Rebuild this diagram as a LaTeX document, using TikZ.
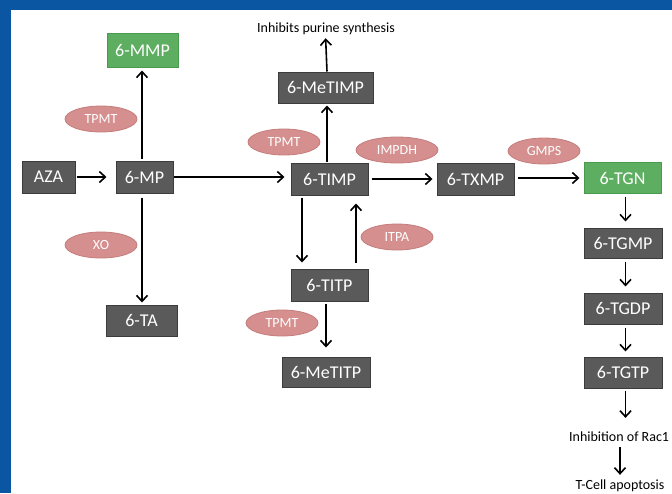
\documentclass[tikz,border=0pt]{standalone}
\usepackage{fontspec}
\setmainfont{Carlito}
\usetikzlibrary{arrows.meta,shapes.geometric}

\definecolor{frameblue}{HTML}{0A56A2}
\definecolor{boxgray}{HTML}{5A5A5A}
\definecolor{boxedge}{HTML}{3C3C3C}
\definecolor{tgngreen}{HTML}{5DAE60}
\definecolor{tgnedge}{HTML}{4A9A4D}
\definecolor{enzfill}{HTML}{D48F8E}
\definecolor{enzedge}{HTML}{C57D7C}

\tikzset{
  metab/.style={draw=boxedge, line width=1pt, fill=boxgray, text=white,
    font=\fontsize{18}{20}\selectfont, inner sep=0pt, anchor=center},
  greenbox/.style={metab, fill=tgngreen, draw=tgnedge},
  enzyme/.style={ellipse, draw=enzedge, line width=0.8pt, fill=enzfill,
    text=white, font=\fontsize{14}{16}\selectfont, inner sep=0pt,
    minimum width=72pt, minimum height=26pt},
  note/.style={font=\fontsize{14}{16}\selectfont, text=black, inner sep=0pt},
  arr/.style={line width=1.6pt, -{Straight Barb[length=6pt,width=11pt,line width=1.6pt]}},
}

\begin{document}
\begin{tikzpicture}[x=1pt, y=-1pt]
  \useasboundingbox (0,0) rectangle (672,493);
  % frame
  \fill[frameblue] (0,0) rectangle (672,493);
  \fill[white] (11,10) rectangle (672,493);

  % metabolites
  \node[metab, minimum width=53pt, minimum height=32pt] (aza) at (48.5,177) {AZA};
  \node[metab, minimum width=57pt, minimum height=32pt] (mp) at (144.5,177) {6-MP};
  \node[greenbox, minimum width=71pt, minimum height=34pt] (mmp) at (142.5,50) {6-MMP};
  \node[metab, minimum width=71pt, minimum height=31pt] (ta) at (141.5,320.5) {6-TA};
  \node[metab, minimum width=95pt, minimum height=31pt] (metimp) at (325.5,87.5) {6-MeTIMP};
  \node[metab, minimum width=77pt, minimum height=32pt] (timp) at (329.5,179) {6-TIMP};
  \node[metab, minimum width=77pt, minimum height=32pt] (titp) at (329.5,285) {6-TITP};
  \node[metab, minimum width=88pt, minimum height=30pt] (metitp) at (326,372) {6-MeTITP};
  \node[metab, minimum width=77pt, minimum height=32pt] (txmp) at (475.5,179) {6-TXMP};
  \node[greenbox, minimum width=77pt, minimum height=31pt] (tgn) at (622.5,178) {6-TGN};
  \node[metab, minimum width=78pt, minimum height=30pt] (tgmp) at (623,243) {6-TGMP};
  \node[metab, minimum width=78pt, minimum height=31pt] (tgdp) at (623,308.5) {6-TGDP};
  \node[metab, minimum width=78pt, minimum height=31pt] (tgtp) at (623,372.5) {6-TGTP};

  % outcomes
  \node[note] (purine) at (326,29) {Inhibits purine synthesis};
  \node[note, anchor=west] (rac) at (569,437) {Inhibition of Rac1};
  \node[note] (apop) at (620,486) {T-Cell apoptosis};

  % enzymes
  \node[enzyme] (tpmta) at (101,119) {TPMT};
  \node[enzyme] (xo) at (101,245) {XO};
  \node[enzyme] (tpmtb) at (284,142) {TPMT};
  \node[enzyme, minimum width=82pt] (impdh) at (397,150) {IMPDH};
  \node[enzyme] (itpa) at (397,237) {ITPA};
  \node[enzyme] (tpmtc) at (282,323) {TPMT};
  \node[enzyme] (gmps) at (544,151) {GMPS};

  % connectors
  \draw[arr, shorten <=1pt, shorten >=9pt] (aza.east) -- (mp.west);
  \draw[arr, shorten <=2pt, shorten >=3pt] ([xshift=-2.5pt]mp.north) -- ([xshift=-0.5pt]mmp.south);
  \draw[arr, shorten <=4pt, shorten >=2pt] ([xshift=-2.5pt]mp.south) -- ([xshift=0.5pt]ta.north);
  \draw[arr, shorten >=6pt] (mp.east) -- (mp.east -| timp.west);
  \draw[arr, shorten <=1pt, shorten >=2pt] ([xshift=-2.5pt]timp.north) -- ([xshift=1.5pt]metimp.south);
  \draw[arr, shorten >=3pt] ([xshift=1.5pt]metimp.north) -- (purine.south -| metimp.north);
  \draw[arr, shorten <=3pt, shorten >=4pt] (timp.east) -- (txmp.west);
  \draw[arr, shorten <=3pt, shorten >=4pt] (txmp.east |- tgn.east) -- (tgn.west);
  \draw[arr, shorten <=2pt, shorten >=6pt] ([xshift=-27.5pt]timp.south) -- ([xshift=-27.5pt]titp.north);
  \draw[arr, shorten <=6pt, shorten >=8pt] ([xshift=26.5pt]titp.north) -- ([xshift=26.5pt]timp.south);
  \draw[arr, shorten <=2pt, shorten >=9pt] ([xshift=-3.5pt]titp.south) -- (metitp.north);
  \draw[arr, shorten <=3pt, shorten >=6pt] ([xshift=3pt]tgn.south) -- ([xshift=2.5pt]tgmp.north);
  \draw[arr, shorten <=3pt, shorten >=6pt] ([xshift=2.5pt]tgmp.south) -- ([xshift=2.5pt]tgdp.north);
  \draw[arr, shorten <=3pt, shorten >=5pt] ([xshift=2.5pt]tgdp.south) -- ([xshift=2.5pt]tgtp.north);
  \draw[arr, shorten <=2pt, shorten >=14pt] ([xshift=2.5pt]tgtp.south) -- ([xshift=2.5pt]tgtp.south |- rac.north);
  \draw[arr, shorten <=5pt, shorten >=5pt] (apop.north |- rac.south) -- (apop.north);
\end{tikzpicture}
\end{document}
